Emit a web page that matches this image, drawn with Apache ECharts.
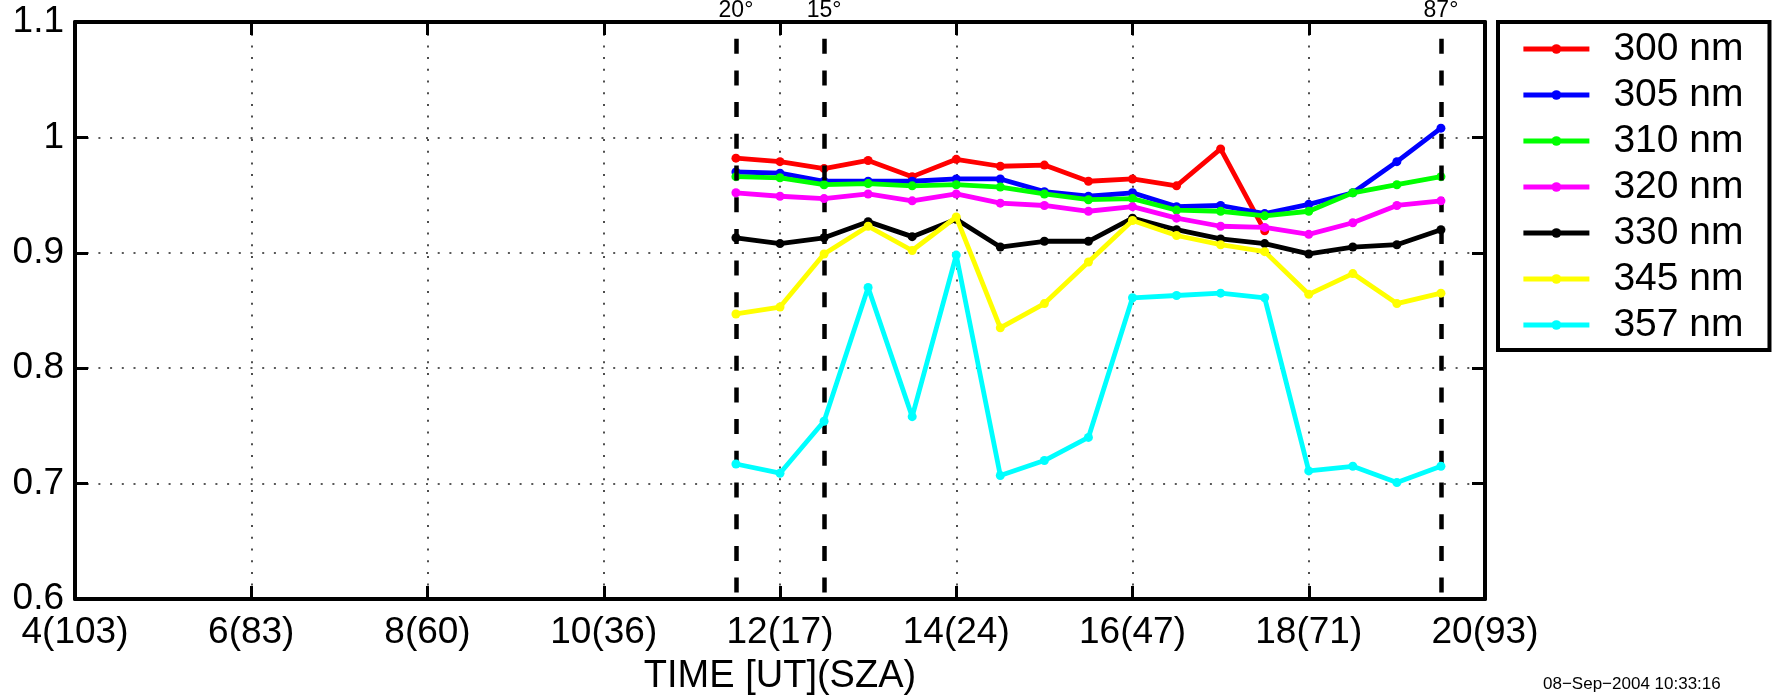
<!DOCTYPE html>
<html>
<head>
<meta charset="utf-8">
<script src="https://cdn.jsdelivr.net/npm/echarts@6/dist/echarts.min.js"></script>
<style>
html,body{margin:0;padding:0;background:#fff;}
#chart{width:1775px;height:696px;}
</style>
</head>
<body>
<div id="chart"></div>
<script>
// ---- data ----
var hours = [11.5,12,12.5,13,13.5,14,14.5,15,15.5,16,16.5,17,17.5,18,18.5,19,19.5];
var nm300 = [0.982,0.979,0.973,0.980,0.966,0.981,0.975,0.976,0.962,0.964,0.958,0.990,0.919,null,null,null,null];
var nm305 = [0.970,0.969,0.962,0.962,0.962,0.964,0.964,0.953,0.949,0.952,0.940,0.941,0.934,0.942,0.952,0.979,1.008];
var nm310 = [0.966,0.965,0.959,0.960,0.958,0.959,0.957,0.951,0.946,0.947,0.937,0.936,0.932,0.936,0.952,0.959,0.966];
var nm320 = [0.952,0.949,0.947,0.951,0.945,0.951,0.943,0.941,0.936,0.940,0.930,0.923,0.922,0.916,0.926,0.941,0.945];
var nm330 = [0.913,0.908,0.913,0.927,0.914,0.929,0.905,0.910,0.910,0.930,0.920,0.912,0.908,0.899,0.905,0.907,0.920];
var nm345 = [0.847,0.853,0.899,0.923,0.902,0.931,0.835,0.856,0.892,0.928,0.915,0.907,0.901,0.864,0.882,0.856,0.865];
var nm357 = [0.717,0.709,0.754,0.870,0.758,0.898,0.707,0.720,0.740,0.861,0.863,0.865,0.861,0.711,0.715,0.701,0.715];

var seriesNames = ['300 nm','305 nm','310 nm','320 nm','330 nm','345 nm','357 nm'];
var seriesColors = ['#ff0000','#0000ff','#00ff00','#ff00ff','#000000','#ffff00','#00ffff'];
var seriesValues = [nm300,nm305,nm310,nm320,nm330,nm345,nm357];

var xTickValues = [4,6,8,10,12,14,16,18,20];
var xTickLabels = ['4(103)','6(83)','8(60)','10(36)','12(17)','14(24)','16(47)','18(71)','20(93)'];
var markerHours = [11.5,12.5,19.5];
var markerLabels = ['20\u00B0','15\u00B0','87\u00B0'];
var dateStamp = '08\u2212Sep\u22122004 10:33:16';
var xTitle = 'TIME [UT](SZA)';

// ---- chart ----
var FONT = '"Liberation Sans", Arial, Helvetica, sans-serif';
var chart = echarts.init(document.getElementById('chart'), null, {renderer:'canvas'});

var gridLine = {show:true, lineStyle:{color:'#222', width:1.6, type:[2,9.7]}};
var axisLineStyle = {show:true, lineStyle:{color:'#000', width:4}};
var tickStyle = {show:true, inside:true, length:13, lineStyle:{color:'#000', width:3}};

var series = [];
series.push({
  name:'marks', type:'line', data:[], silent:true, z:1,
  markLine:{
    silent:true, symbol:['none','none'], animation:false,
    lineStyle:{color:'#000', width:4.5, type:[15,16.7], dashOffset:15},
    label:{show:true, position:'start', distance:0, color:'#000', fontSize:23, fontFamily:FONT},
    data: markerHours.map(function(h,i){
      return [{coord:[h,1.1], label:{formatter:markerLabels[i]}}, {coord:[h,0.6]}];
    })
  }
});
seriesValues.forEach(function(vals, k){
  series.push({
    name: seriesNames[k], type:'line', z:2+k,
    data: hours.map(function(h,i){ return [h, vals[i]]; }),
    symbol:'circle', symbolSize:9, showSymbol:true,
    color: seriesColors[k],
    lineStyle:{width:4.8, color:seriesColors[k]},
    itemStyle:{color:seriesColors[k]},
    connectNulls:false
  });
});

var option = {
  animation:false,
  backgroundColor:'#fff',
  grid:{left:75, right:290, top:22, bottom:97, containLabel:false, outerBoundsMode:'none'},
  legend:{
    data: seriesNames,
    orient:'vertical',
    left:1498, top:22,
    padding:[7,26,5,23],
    itemWidth:66, itemHeight:12, itemGap:6,
    borderColor:'#000', borderWidth:4, backgroundColor:'#fff',
    lineStyle:{width:4.8},
    textStyle:{fontSize:39, fontFamily:FONT, color:'#000', lineHeight:40, padding:[0,0,0,19]},
    selectedMode:false
  },
  xAxis:[{
    type:'value', min:4, max:20, interval:2, position:'bottom',
    axisLine:axisLineStyle, axisTick:tickStyle,
    splitLine:Object.assign({showMinLine:false, showMaxLine:false}, gridLine),
    axisLabel:{show:true, margin:15, fontSize:37, fontFamily:FONT, color:'#000',
      formatter:function(v){ var i = xTickValues.indexOf(v); return i>=0 ? xTickLabels[i] : ''; }}
  },{
    type:'value', min:4, max:20, interval:2, position:'top',
    axisLine:axisLineStyle, axisTick:tickStyle, splitLine:{show:false}, axisLabel:{show:false}
  }],
  yAxis:[{
    type:'value', min:0.6, max:1.1, interval:0.1, position:'left',
    axisLine:axisLineStyle, axisTick:tickStyle,
    splitLine:Object.assign({showMinLine:false, showMaxLine:false}, gridLine),
    axisLabel:{show:true, margin:11, fontSize:37, fontFamily:FONT, color:'#000',
      formatter:function(v){ return String(Math.round(v*10)/10); }}
  },{
    type:'value', min:0.6, max:1.1, interval:0.1, position:'right',
    axisLine:axisLineStyle, axisTick:tickStyle, splitLine:{show:false}, axisLabel:{show:false}
  }],
  graphic:[{
    type:'text', x:780, y:677,
    style:{text:xTitle, fontSize:38, fontFamily:FONT, fill:'#000', align:'center', verticalAlign:'middle'}
  },{
    type:'text', left:1543, top:676,
    style:{text:dateStamp, fontSize:17, fontFamily:FONT, fill:'#000'}
  }],
  series: series
};
chart.setOption(option);
</script>
</body>
</html>
